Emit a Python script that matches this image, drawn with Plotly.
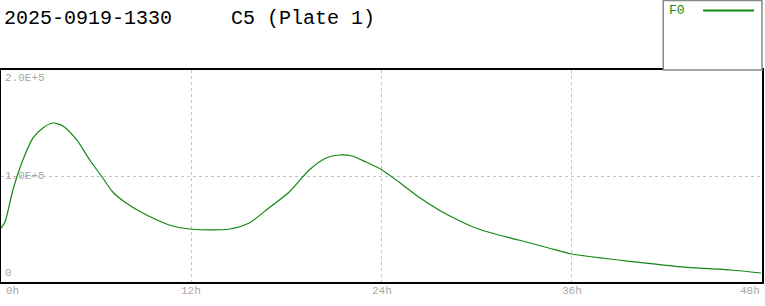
import plotly.graph_objects as go

# Data (hours, signal)
hours = [0, 0.25, 0.75, 1.38, 2.01, 2.64, 3.27, 3.90, 4.78, 5.60, 6.42, 7.05, 7.80,
         9.18, 10.82, 11.89, 13.34, 14.41, 15.66, 16.73, 18.18, 19.44, 20.51, 21.33,
         22.14, 23.02, 24.03, 25.10, 26.17, 27.62, 28.69, 29.94, 31.39, 32.65, 34.54,
         35.98, 40.01, 42.90, 46.05, 47.94]
f0 = [50900, 56600, 86800, 115100, 135800, 145300, 150000, 147200, 134000, 115100,
      98100, 84900, 75500, 63200, 52800, 50000, 49100, 50000, 55700, 67900, 84900,
      105700, 117000, 119800, 118900, 113200, 105700, 94300, 82100, 67900, 59400,
      50900, 44300, 39600, 32100, 26400, 18900, 14200, 11300, 8500]

series_name = "F0"
title_left = "2025-0919-1330"
title_right = "C5 (Plate 1)"
x_tick_vals = [0, 12, 24, 36, 48]
x_tick_text = ["0h", "12h", "24h", "36h", "48h"]
y_tick_vals = [0, 100000, 200000]
y_tick_text = ["0", "1.0E+5", "2.0E+5"]

W, H = 765, 306
ML, MR, MT, MB = 1, 1, 70, 24
PW, PH = W - ML - MR, H - MT - MB

def px_x(p):
    return (p - ML) / PW

def px_y(p):
    return (H - MB - p) / PH

green = "#118811"
gray = "#a8a8a8"
mono = "Liberation Mono"

fig = go.Figure()
fig.add_trace(go.Scatter(x=hours, y=f0, mode="lines", name=series_name,
                         line=dict(color=green, width=1.2, shape="spline", smoothing=0.7),
                         showlegend=False))

fig.update_layout(
    width=W, height=H,
    margin=dict(l=ML, r=MR, t=MT, b=MB),
    paper_bgcolor="white", plot_bgcolor="white",
    xaxis=dict(range=[0, 48], tickvals=[12, 24, 36], showticklabels=False,
               showgrid=True, gridcolor="#c4c4c4", griddash="3px,3px", gridwidth=1,
               zeroline=False, showline=True, mirror=True, linecolor="black",
               linewidth=2, ticks=""),
    yaxis=dict(range=[0, 200000], tickvals=[100000], showticklabels=False,
               showgrid=True, gridcolor="#c4c4c4", griddash="3px,3px", gridwidth=1,
               zeroline=False, showline=True, mirror=True, linecolor="black",
               linewidth=2, ticks=""),
)

# Title
fig.add_annotation(text=title_left, xref="paper", yref="paper", x=px_x(2), y=px_y(18),
                   xanchor="left", yanchor="middle", showarrow=False,
                   font=dict(family=mono, size=20, color="black"))
fig.add_annotation(text=title_right, xref="paper", yref="paper", x=px_x(230), y=px_y(18),
                   xanchor="left", yanchor="middle", showarrow=False,
                   font=dict(family=mono, size=20, color="black"))

# Y tick labels inside the plot
y_anchors = ["bottom", "middle", "top"]
for v, t, a in zip(y_tick_vals, y_tick_text, y_anchors):
    fig.add_annotation(text=t, xref="paper", yref="y", x=px_x(3), y=v,
                       xanchor="left", yanchor=a, showarrow=False,
                       font=dict(family=mono, size=11, color=gray),
                       yshift=(1 if a == "bottom" else (0 if a == "top" else 0)))

# X tick labels
x_anchors = ["left", "center", "center", "center", "right"]
for v, t, a in zip(x_tick_vals, x_tick_text, x_anchors):
    fig.add_annotation(text=t, xref="x", yref="paper", x=v, y=px_y(283),
                       xanchor=a, yanchor="top", showarrow=False,
                       font=dict(family=mono, size=11, color=gray),
                       xshift=(3 if a == "left" else 0))

# Legend box
fig.add_shape(type="rect", xref="paper", yref="paper",
              x0=px_x(665), x1=px_x(764), y0=px_y(70), y1=px_y(0.5),
              line=dict(color="#888888", width=1.5), fillcolor="white", layer="above")
fig.add_annotation(text=series_name, xref="paper", yref="paper", x=px_x(669), y=px_y(11),
                   xanchor="left", yanchor="middle", showarrow=False,
                   font=dict(family=mono, size=13, color=green))
fig.add_shape(type="line", xref="paper", yref="paper",
              x0=px_x(705), x1=px_x(756), y0=px_y(10.5), y1=px_y(10.5),
              line=dict(color=green, width=2))

fig.write_html("out.html")
